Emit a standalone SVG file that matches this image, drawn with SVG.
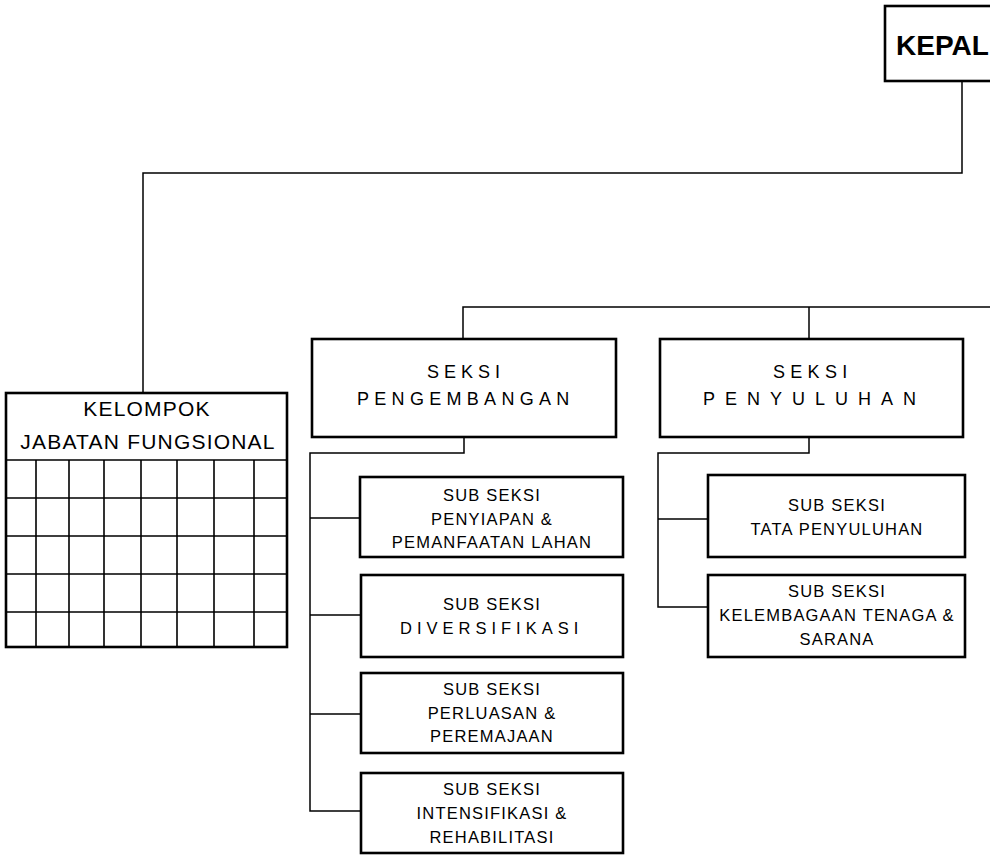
<svg xmlns="http://www.w3.org/2000/svg" width="990" height="856" viewBox="0 0 990 856">
<style>
.box{fill:#fff;stroke:#000;stroke-width:2.6}
.grid{fill:none;stroke:#000;stroke-width:1.6}
.conn{fill:none;stroke:#000;stroke-width:1.5}
text{font-family:"Liberation Sans",Arial,sans-serif;fill:#000}
.sub{font-size:16.5px;letter-spacing:1.2px;text-anchor:middle}
.sek{font-size:18px}
.kel{font-size:21px;letter-spacing:1.2px;text-anchor:middle}
.kep{font-size:28px;font-weight:bold}
</style>
<rect width="990" height="856" fill="#fff"/>
<g id="connectors">
<path class="conn" d="M962,81 V173 H143 V393"/>
<path class="conn" d="M463,339 V307 H990"/>
<path class="conn" d="M809,307 V339"/>
<path class="conn" d="M464,437 V453 H310 V811 H360"/>
<path class="conn" d="M310,518 H360 M310,615 H361 M310,714 H361"/>
<path class="conn" d="M809,437 V453 H658 V607 H708"/>
<path class="conn" d="M658,519 H708"/>
</g>
<g id="kepala">
<rect class="box" x="885" y="6" width="120" height="75"/>
<text class="kep" x="896" y="55">KEPAL</text>
</g>
<g id="kelompok">
<rect class="box" x="6" y="393" width="281" height="254"/>
<path class="grid" d="M6,460 H287 M6,498 H287 M6,536 H287 M6,574 H287 M6,612 H287 M36,460 V647 M69,460 V647 M104,460 V647 M141,460 V647 M177,460 V647 M214,460 V647 M254,460 V647"/>
<text class="kel" x="147" y="416">KELOMPOK</text>
<text class="kel" x="148" y="449">JABATAN FUNGSIONAL</text>
</g>
<g id="seksi-pengembangan">
<rect class="box" x="312" y="339" width="304" height="98"/>
<text class="sek" x="427" y="378" letter-spacing="5">SEKSI</text>
<text class="sek" x="357" y="405" letter-spacing="5.3">PENGEMBANGAN</text>
</g>
<g id="seksi-penyuluhan">
<rect class="box" x="660" y="339" width="303" height="98"/>
<text class="sek" x="773" y="378" letter-spacing="5.3">SEKSI</text>
<text class="sek" x="703" y="405" letter-spacing="10">PENYULUHAN</text>
</g>
<g id="sub-penyiapan">
<rect class="box" x="360" y="477" width="263" height="80"/>
<text class="sub" x="492" y="501">SUB SEKSI</text>
<text class="sub" x="492" y="525">PENYIAPAN &amp;</text>
<text class="sub" x="492" y="548">PEMANFAATAN LAHAN</text>
</g>
<g id="sub-diversifikasi">
<rect class="box" x="361" y="575" width="262" height="82"/>
<text class="sub" x="492" y="610">SUB SEKSI</text>
<text style="font-size:16.5px" x="400" y="634" letter-spacing="5">DIVERSIFIKASI</text>
</g>
<g id="sub-perluasan">
<rect class="box" x="361" y="673" width="262" height="80"/>
<text class="sub" x="492" y="695">SUB SEKSI</text>
<text class="sub" x="492" y="719">PERLUASAN &amp;</text>
<text class="sub" x="492" y="742">PEREMAJAAN</text>
</g>
<g id="sub-intensifikasi">
<rect class="box" x="361" y="773" width="262" height="80"/>
<text class="sub" x="492" y="795">SUB SEKSI</text>
<text class="sub" x="492" y="819">INTENSIFIKASI &amp;</text>
<text class="sub" x="492" y="843">REHABILITASI</text>
</g>
<g id="sub-tata">
<rect class="box" x="708" y="475" width="257" height="82"/>
<text class="sub" x="837" y="511">SUB SEKSI</text>
<text class="sub" x="837" y="535">TATA PENYULUHAN</text>
</g>
<g id="sub-kelembagaan">
<rect class="box" x="708" y="575" width="257" height="82"/>
<text class="sub" x="837" y="597">SUB SEKSI</text>
<text class="sub" x="837" y="621">KELEMBAGAAN TENAGA &amp;</text>
<text class="sub" x="837" y="645">SARANA</text>
</g>
</svg>
